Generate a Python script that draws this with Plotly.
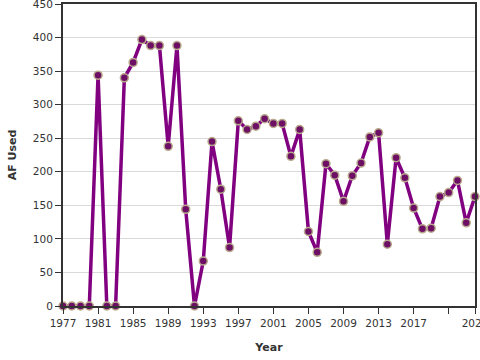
import plotly.graph_objects as go

years = list(range(1977, 2025))
af_used = [0, 0, 0, 0, 344, 0, 0, 340, 363, 397, 388, 388, 238, 388, 144, 0,
           67, 245, 174, 87, 276, 263, 268, 279, 272, 272, 223, 263, 111, 80,
           212, 195, 156, 194, 213, 252, 258, 92, 221, 191, 146, 115, 116, 163,
           169, 187, 124, 163]

tick_vals = [1977, 1981, 1985, 1989, 1993, 1997, 2001, 2005, 2009, 2013, 2017, 2021, 2024]
tick_text = ["1977", "1981", "1985", "1989", "1993", "1997", "2001", "2005", "2009", "2013", "2017", "", "2024"]
y_ticks = [0, 50, 100, 150, 200, 250, 300, 350, 400, 450]

fig = go.Figure()
fig.add_trace(go.Scatter(
    x=years, y=af_used, mode="lines+markers",
    line=dict(color="#800080", width=3.5),
    marker=dict(size=8, color="#6e0f66", line=dict(color="#b8aa8c", width=1.5)),
    cliponaxis=False,
))

font_family = "DejaVu Sans, Verdana, sans-serif"
fig.update_layout(
    width=480, height=360,
    margin=dict(l=63, r=5, t=4, b=54),
    paper_bgcolor="white", plot_bgcolor="white",
    showlegend=False,
    font=dict(family=font_family, size=11, color="#333"),
)
fig.update_xaxes(
    range=[1977, 2024], tickvals=tick_vals, ticktext=tick_text,
    showgrid=False, zeroline=False, automargin=False,
    showline=True, linecolor="#333", linewidth=2, mirror=True,
    ticks="outside", ticklen=6, tickcolor="#333", tickwidth=1,
    tickfont=dict(size=10.5, color="#333"),
    ticklabeloverflow="allow",
    title=dict(text="<b>Year</b>", font=dict(size=11, color="#333"), standoff=16),
)
fig.update_yaxes(
    range=[0, 450], tickvals=y_ticks,
    showgrid=True, gridcolor="#d9d9d9", gridwidth=1, zeroline=False, automargin=False,
    showline=True, linecolor="#333", linewidth=2, mirror=True,
    ticks="outside", ticklen=6, tickcolor="#333", tickwidth=1,
    tickfont=dict(size=10.5, color="#333"),
    ticklabeloverflow="allow",
    title=dict(text="<b>AF Used</b>", font=dict(size=11, color="#333"), standoff=14),
)

fig.write_html("out.html", config={"displayModeBar": False},
               post_script="document.body.style.margin='0';document.body.style.overflow='hidden';")
